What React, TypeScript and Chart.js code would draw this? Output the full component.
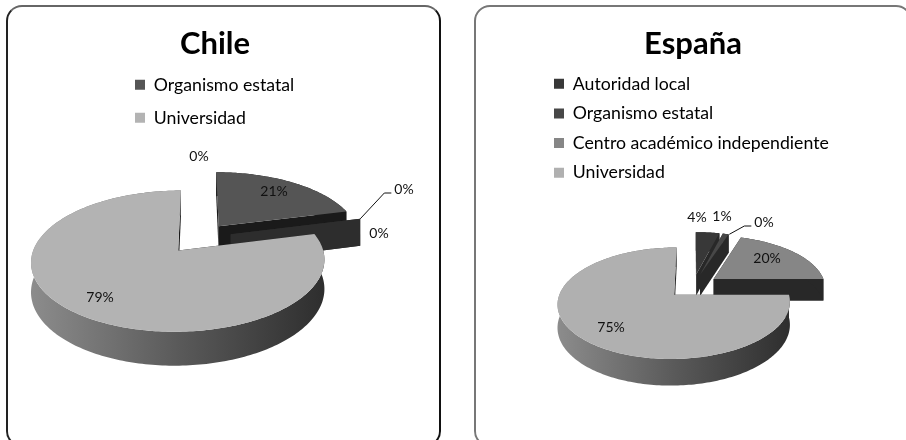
import React, { useEffect, useRef } from "react";
import { Chart, registerables } from "chart.js";

Chart.register(...registerables);

const categories = ["Autoridad local", "Organismo estatal", "Otros", "Centro académico independiente", "Universidad"];
const chileValues = [0, 21, 0, 0, 79];
const espanaValues = [4, 1, 0, 20, 75];
const chileColors = ["#3a3a3a", "#555555", "#3a3a3a", "#8a8a8a", "#b3b3b3"];
const espanaColors = ["#383838", "#474747", "#474747", "#868686", "#b0b0b0"];

type View = {
  title: string; values: number[]; colors: string[]; wall: string;
  cx: number; cy: number; R: number; e: number; k: number; p: number; d: number;
  titleX: number; titleTop: number; legendX: number; legendY: number; legendGap: number;
  labels: { x: number; y: number; leader?: boolean }[];
};

const chileView: View = {
  title: "Chile", values: chileValues, colors: chileColors, wall: "#1a1a1a",
  cx: 199, cy: 238, R: 141, e: 33, k: 0.4626, p: 0.00105, d: 28,
  titleX: 215, titleTop: 25, legendX: 135, legendY: 76, legendGap: 15.3,
  labels: [
    { x: 199, y: 156 }, { x: 274, y: 191 }, { x: 404, y: 189, leader: true }, { x: 379, y: 233 }, { x: 100, y: 297 },
  ],
};
const espanaView: View = {
  title: "España", values: espanaValues, colors: espanaColors, wall: "#282828",
  cx: 240, cy: 286, R: 112, e: 26, k: 0.4626, p: 0.00133, d: 22,
  titleX: 240, titleTop: 25, legendX: 101, legendY: 75, legendGap: 11.9,
  labels: [
    { x: 244, y: 217 }, { x: 269, y: 216 }, { x: 311, y: 222, leader: true }, { x: 314, y: 258 }, { x: 158, y: 327 },
  ],
};

function pie3d(v: View) {
  return {
    id: "pie3d",
    afterLayout(chart: any) {
      const off = v.e * 4;
      const half = v.R + off / 2;
      chart.chartArea = {
        left: v.cx - half, right: v.cx + half, top: v.cy - half, bottom: v.cy + half,
        width: half * 2, height: half * 2,
      };
      const t = chart.titleBlock;
      t.left = v.titleX - 150; t.right = v.titleX + 150; t.width = 300; t.top = 0;
      const l = chart.legend;
      const pad = l.options.labels.padding;
      const w = l.width;
      l.left = v.legendX - pad; l.right = l.left + w;
      l.top = v.legendY - pad; l.bottom = l.top + 300;
    },
    beforeDatasetDraw(chart: any) {
      const ctx = chart.ctx as CanvasRenderingContext2D;
      const arcs = chart.getDatasetMeta(0).data;
      arcs.forEach((a: any) => {
        const S = a.startAngle, E = a.endAngle, r = a.outerRadius;
        const mid = (S + E) / 2;
        const ox = Math.cos(mid) * a.options.offset / 4;
        const oy = Math.sin(mid) * a.options.offset / 4;
        const pr = (ang: number, rad: number, z: number) => {
          const px = Math.cos(ang) * rad + ox;
          const py = Math.sin(ang) * rad + oy;
          const w = 1 - py * v.p;
          return [a.x + px / w, a.y + (py * v.k + z) / w];
        };
        const arcPts = (z: number) => {
          const n = Math.max(2, Math.ceil((E - S) / 0.02));
          const out: number[][] = [];
          for (let j = 0; j <= n; j++) out.push(pr(S + ((E - S) * j) / n, r, z));
          return out;
        };
        const poly = (pts: number[][], fill: string | CanvasGradient) => {
          ctx.beginPath();
          pts.forEach((q, j) => (j ? ctx.lineTo(q[0], q[1]) : ctx.moveTo(q[0], q[1])));
          ctx.closePath();
          ctx.fillStyle = fill;
          ctx.fill();
        };
        const wall = (ang: number, color: string) =>
          poly([pr(0, 0, 0), pr(ang, r, 0), pr(ang, r, v.d), pr(0, 0, v.d)], color);
        if (E - S < 1e-6) {
          if (Math.cos(S) > 0.15 && Math.sin(S) > -0.5) wall(S, "#2d2d2d");
          return;
        }
        wall(S, v.wall);
        wall(E, v.wall);
        const top = arcPts(0);
        const xs = top.map((q) => q[0]);
        const grad = ctx.createLinearGradient(Math.min(...xs), 0, Math.max(...xs), 0);
        grad.addColorStop(0, "#8c8c8c");
        grad.addColorStop(0.5, "#5a5a5a");
        grad.addColorStop(1, "#2e2e2e");
        poly([...top, ...arcPts(v.d).reverse()], E - S > 2 ? grad : v.wall);
        poly([pr(0, 0, 0), ...top], a.options.backgroundColor);
      });
      return false;
    },
    afterDatasetsDraw(chart: any) {
      const ctx = chart.ctx as CanvasRenderingContext2D;
      const arcs = chart.getDatasetMeta(0).data;
      ctx.save();
      ctx.font = "14px Lato";
      ctx.fillStyle = "#111";
      ctx.strokeStyle = "#111";
      ctx.textAlign = "center";
      ctx.textBaseline = "middle";
      v.values.forEach((val, i) => {
        const l = v.labels[i];
        const txt = Math.round(val) + "%";
        ctx.fillText(txt, l.x, l.y);
        if (l.leader) {
          const a = arcs[i];
          const ang = a.startAngle;
          const off = a.options.offset / 4;
          const px = Math.cos(ang) * (a.outerRadius + off);
          const py = Math.sin(ang) * (a.outerRadius + off);
          const w = 1 - py * v.p;
          const tw = ctx.measureText(txt).width;
          ctx.lineWidth = 1;
          ctx.beginPath();
          ctx.moveTo(a.x + px / w, a.y + (py * v.k) / w);
          ctx.lineTo(l.x - tw / 2 - 10, l.y + 4);
          ctx.lineTo(l.x - tw / 2 - 3, l.y + 4);
          ctx.stroke();
        }
      });
      ctx.restore();
    },
  };
}

function PieCanvas({ view }: { view: View }) {
  const ref = useRef<HTMLCanvasElement>(null);
  useEffect(() => {
    const chart = new Chart(ref.current as HTMLCanvasElement, {
      type: "pie",
      data: {
        labels: categories,
        datasets: [{ data: view.values, backgroundColor: view.colors, borderWidth: 0, offset: view.e * 4 }],
      },
      options: {
        animation: false,
        responsive: false,
        plugins: {
          tooltip: { enabled: false },
          title: {
            display: true, text: view.title, color: "#000",
            font: { family: "Lato", size: 31, weight: "bold" },
            padding: { top: view.titleTop, bottom: 0 },
          },
          legend: {
            position: "left", align: "start", maxWidth: 420,
            labels: {
              color: "#000", boxWidth: 10, boxHeight: 10, padding: view.legendGap,
              font: { family: "Lato", size: 17.7 },
              filter: (item: any, data: any) => data.datasets[0].data[item.index] > 0,
            },
          },
        },
      },
      plugins: [pie3d(view)],
    } as any);
    return () => chart.destroy();
  }, [view]);
  return <canvas ref={ref} width={453} height={440} style={{ position: "absolute", inset: 0, display: "block" }} />;
}

const panel = (left: number, width: number, side: string, far: string, top: string): React.CSSProperties => ({
  position: "absolute", left, top: 5, width, height: 442, boxSizing: "border-box",
  borderStyle: "solid", borderWidth: 2, borderRadius: 16,
  borderLeftColor: side, borderRightColor: far, borderTopColor: top, borderBottomColor: side,
  background: "#fff",
});

export default function App() {
  return (
    <div style={{ position: "fixed", left: 0, top: 0, width: 906, height: 440, overflow: "hidden", background: "#fff" }}>
      <div style={panel(6, 435, "#222", "#111", "#666")} />
      <div style={panel(474, 438, "#777", "#777", "#777")} />
      <div style={{ position: "absolute", left: 0, top: 0, width: 453, height: 440 }}><PieCanvas view={chileView} /></div>
      <div style={{ position: "absolute", left: 453, top: 0, width: 453, height: 440 }}><PieCanvas view={espanaView} /></div>
    </div>
  );
}
